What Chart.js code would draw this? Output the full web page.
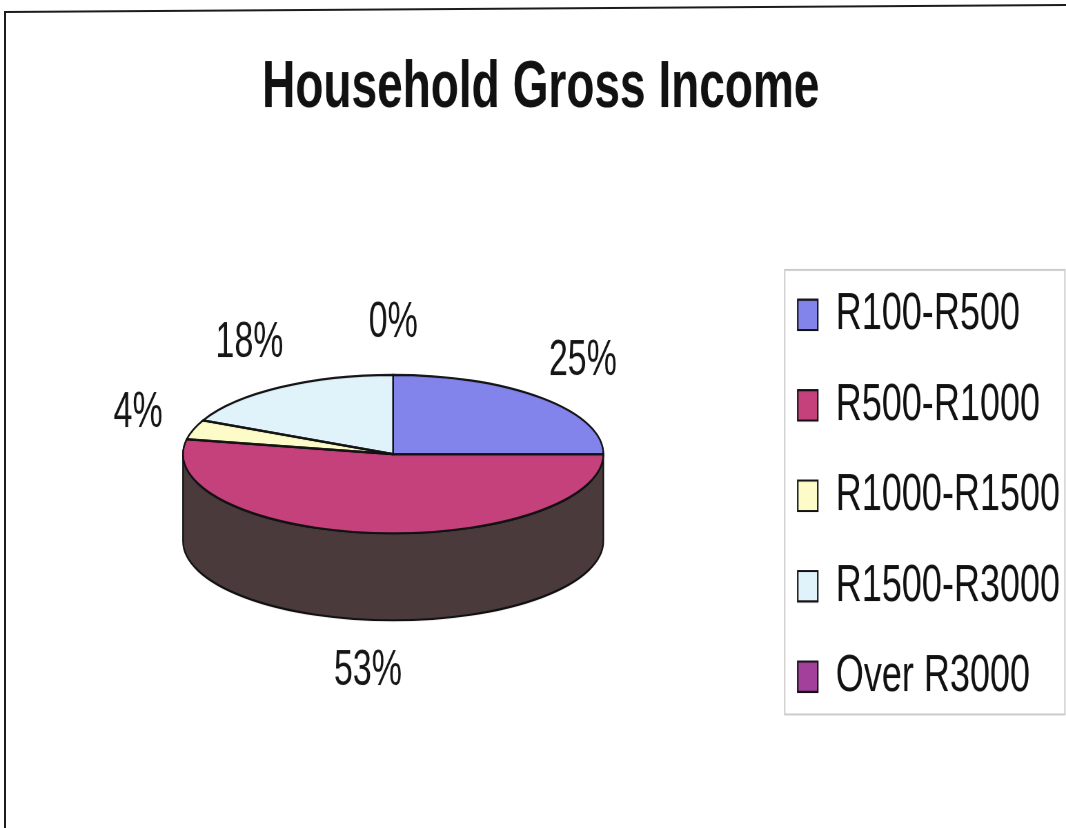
<!DOCTYPE html>
<html>
<head>
<meta charset="utf-8">
<title>Household Gross Income</title>
<script src="https://cdn.jsdelivr.net/npm/chart.js@4.4.1/dist/chart.umd.min.js"></script>
<style>
  html, body { margin: 0; padding: 0; background: #fff; }
  body { width: 1066px; height: 828px; position: relative; overflow: hidden; }
  /* chart is laid out at 571px high and stretched to the full 828px */
  #wrap {
    position: absolute; left: 0; top: 0;
    width: 1066px; height: 571px;
    transform: scaleY(1.4501); transform-origin: 0 0;
  }
  .frame-left { position: absolute; left: 4px; top: 11px; width: 2px; height: 830px; background: #1c1c1c; }
  .frame-top {
    position: absolute; left: 4px; top: 11px; width: 1070px; height: 2px; background: #1c1c1c;
    transform: rotate(-0.38deg); transform-origin: 0 0;
  }
</style>
</head>
<body>
<div id="wrap"><canvas id="incomeChart"></canvas></div>
<div class="frame-left"></div>
<div class="frame-top"></div>

<script>
// income bands and share of households (%)
const bands = ["R100-R500", "R500-R1000", "R1000-R1500", "R1500-R3000", "Over R3000"];
const shares = [25, 53, 4, 18, 0];

const sliceColors = ["#8383ec", "#c4417c", "#fdfcc8", "#e0f3fb", "#a3409c"];
const wallColors = ["#40407a", "#4a3a3b", "#86855e", "#6f7f86", "#512050"];

const TILT = 0.26;   // squash of the pie top
const DEPTH = 60;    // height of the pie wall

Chart.defaults.font.family = '"Liberation Sans", Arial, sans-serif';
Chart.defaults.color = "#111";

// draws the pie as a tilted disc: walls first, then the squashed top
const pie3d = {
    id: "pie3d",
    beforeDatasetsDraw(chart) {
        const ctx = chart.ctx;
        const arcs = chart.getDatasetMeta(0).data;
        const {x, y, outerRadius: r} = arcs[0];

        arcs.forEach((a, i) => {
            const s = Math.max(a.startAngle, 0);
            const e = Math.min(a.endAngle, Math.PI);
            if (e <= s) return;
            ctx.save();
            ctx.beginPath();
            ctx.ellipse(x, y, r, r * TILT, 0, s, e);
            ctx.ellipse(x, y + DEPTH, r, r * TILT, 0, e, s, true);
            ctx.closePath();
            ctx.fillStyle = wallColors[i];
            ctx.fill();
            ctx.lineWidth = 1.5;
            ctx.strokeStyle = "#111";
            ctx.stroke();
            ctx.restore();
        });

        ctx.save();
        ctx.translate(x, y);
        ctx.scale(1, TILT);
        ctx.translate(-x, -y);
    },
    afterDatasetsDraw(chart) {
        const ctx = chart.ctx;
        ctx.restore();

        const arcs = chart.getDatasetMeta(0).data;
        const {x, y, outerRadius: r} = arcs[0];

        // redo the slice outlines so they keep an even width after squashing
        ctx.save();
        ctx.lineWidth = 1.5;
        ctx.strokeStyle = "#111";
        arcs.forEach(a => {
            if (a.endAngle - a.startAngle <= 0) return;
            ctx.beginPath();
            ctx.moveTo(x, y);
            ctx.lineTo(x + r * Math.cos(a.startAngle), y + r * TILT * Math.sin(a.startAngle));
            ctx.ellipse(x, y, r, r * TILT, 0, a.startAngle, a.endAngle);
            ctx.closePath();
            ctx.stroke();
        });
        ctx.restore();

        // percentage labels outside the disc
        const total = shares.reduce((s, v) => s + v, 0);
        ctx.save();
        ctx.font = '34px "Liberation Sans", Arial, sans-serif';
        ctx.fillStyle = "#151515";
        ctx.textAlign = "center";
        ctx.textBaseline = "middle";
        arcs.forEach((a, i) => {
            const mid = (a.startAngle + a.endAngle) / 2;
            const lx = x + (r + 58) * Math.cos(mid);
            let ly = y + (r * TILT + 35.5) * Math.sin(mid);
            if (Math.sin(mid) > 0) ly += DEPTH;
            ctx.fillText(Math.round(shares[i] / total * 100) + "%", lx, ly);
        });
        ctx.restore();
    },
    afterDraw(chart) {
        // grey frame round the legend
        const boxes = chart.legend.legendHitBoxes;
        if (!boxes || !boxes.length) return;
        const first = boxes[0];
        const last = boxes[boxes.length - 1];
        const ctx = chart.ctx;
        ctx.save();
        ctx.strokeStyle = "#c8c8c8";
        ctx.lineWidth = 1.3;
        ctx.strokeRect(first.left - 13, first.top - 13, 280, last.top + last.height + 8 - (first.top - 13));
        ctx.restore();
    }
};

new Chart(document.getElementById("incomeChart"), {
    type: "pie",
    data: {
        labels: bands,
        datasets: [{
            data: shares,
            backgroundColor: sliceColors,
            borderColor: "#111",
            borderWidth: 1.5
        }]
    },
    options: {
        responsive: true,
        maintainAspectRatio: false,
        devicePixelRatio: 1.45,
        animation: false,
        events: [],
        layout: {
            padding: { left: 15, right: 0, top: 0, bottom: 47 }
        },
        plugins: {
            title: {
                display: true,
                text: "Household Gross Income",
                color: "#111",
                font: { size: 46, weight: "bold" },
                padding: { top: 33.5, bottom: 13.6 }
            },
            legend: {
                position: "right",
                align: "start",
                fullSize: false,
                maxWidth: 295,
                title: { display: true, text: "", padding: { top: 56, bottom: 0 } },
                labels: {
                    boxWidth: 20,
                    boxHeight: 21,
                    padding: 26.4,
                    color: "#111",
                    font: { size: 36 }
                }
            },
            tooltip: { enabled: false }
        }
    },
    plugins: [pie3d]
});
</script>
</body>
</html>
